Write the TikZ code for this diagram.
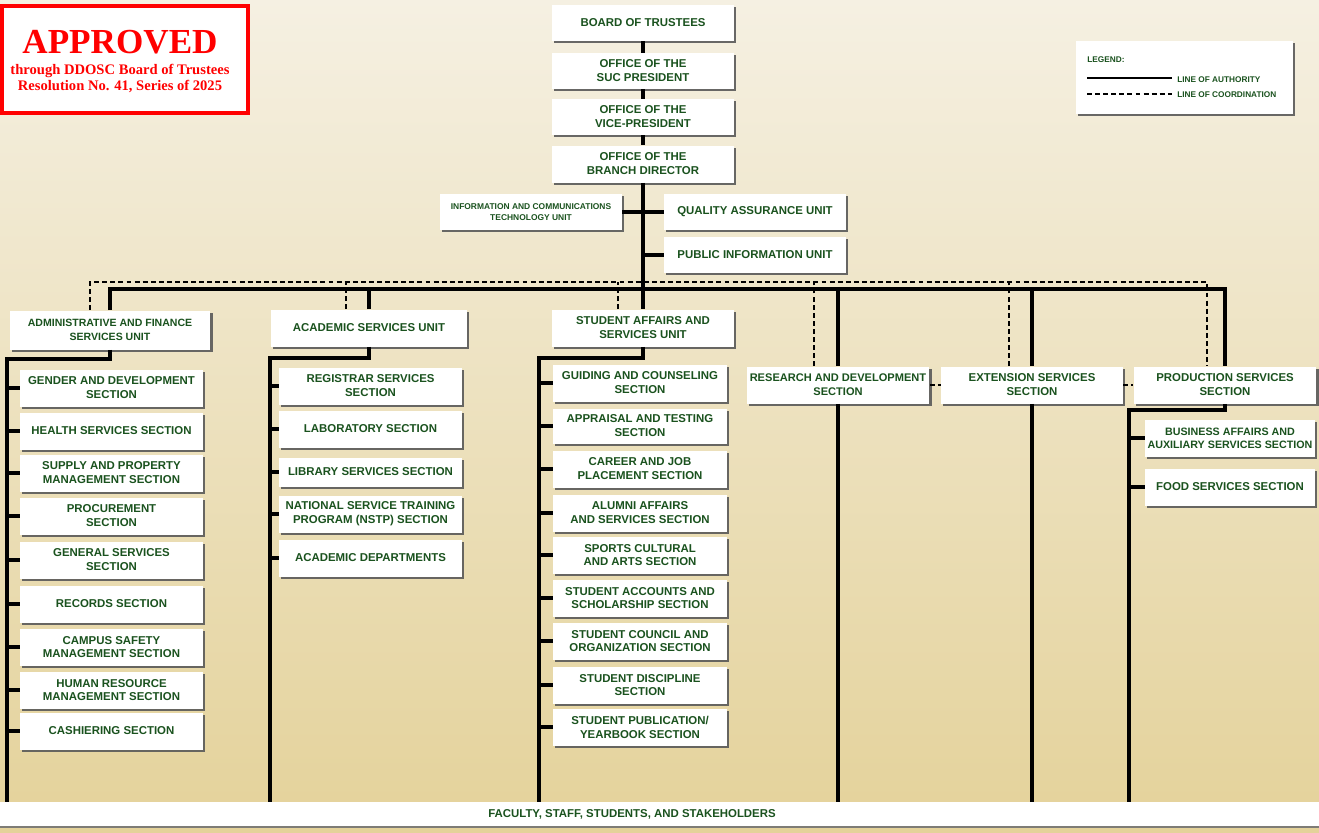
\documentclass[tikz,border=0pt]{standalone}
\usepackage{fontspec}
\setmainfont{Liberation Sans}
\newfontfamily\stampfont{Liberation Serif}
\usetikzlibrary{shadows}
\definecolor{ddgreen}{RGB}{26,82,30}
\definecolor{bgtop}{RGB}{245,240,226}
\definecolor{bgbottom}{RGB}{228,210,154}
\newcommand{\boxfont}{\fontsize{6.5}{7.9}\selectfont\bfseries}
\newcommand{\ictfont}{\fontsize{4.8}{6.2}\selectfont\bfseries}
\newcommand{\legfont}{\fontsize{4.7}{5.6}\selectfont\bfseries}
\newcommand{\branch}[2]{\draw[sub] (#1.west) -- (#1.west -| #2)}

\begin{document}
\begin{tikzpicture}[x=0.02cm, y=-0.02cm,
    box/.style={fill=white, text=ddgreen, font=\boxfont, align=center, inner sep=1pt,
      minimum width=3.64cm, minimum height=0.72cm,
      drop shadow={shadow xshift=1.2pt, shadow yshift=-1.2pt, fill=black!65, opacity=0.9}},
    secbox/.style={box, minimum width=3.66cm, minimum height=0.74cm},
    auth/.style={line width=1.8pt},
    sub/.style={line width=1.8pt},
    coordline/.style={line width=0.75pt, dash pattern=on 2.8pt off 1.8pt}]
  \useasboundingbox (0,0) rectangle (1319,832);
  \shade[top color=bgtop, bottom color=bgbottom] (0,0) rectangle (1319,832);

  % approval stamp
  \node[draw=red, line width=2.3pt, fill=white, minimum width=4.92cm, minimum height=2.14cm] (stamp) at (125,59.5) {};
  \node[anchor=base, text=red, font=\fontsize{20}{22}\stampfont\bfseries] (stamptitle) at (120,53) {APPROVED};
  \node[anchor=base, text=red, font=\fontsize{8.3}{9}\stampfont\bfseries] (stampline) at (120,74) {through DDOSC Board of Trustees};
  \node[anchor=base, text=red, font=\fontsize{8.3}{9}\stampfont\bfseries] (stampres) at (120,90) {Resolution No. 41, Series of 2025};

  % legend
  \node[fill=white, minimum width=4.34cm, minimum height=1.46cm,
    drop shadow={shadow xshift=1.2pt, shadow yshift=-1.2pt, fill=black!65, opacity=0.9}] (legend) at (1184.5,77.5) {};
  \node[anchor=base west, inner sep=0, text=ddgreen, font=\legfont] (leghead) at (1087,62) {LEGEND:};
  \coordinate (legA) at (1087,78);
  \coordinate (legB) at (1172,78);
  \coordinate (legC) at (1087,94);
  \coordinate (legD) at (1172,94);
  \draw[line width=1.1pt] (legA) -- (legB);
  \draw[coordline, line width=1pt] (legC) -- (legD);
  \node[anchor=base west, inner sep=0, text=ddgreen, font=\legfont] (legauth) at (1177,82) {LINE OF AUTHORITY};
  \node[anchor=base west, inner sep=0, text=ddgreen, font=\legfont] (legcoord) at (1177,97) {LINE OF COORDINATION};

  % top offices
  \node[box] (bot) at (643,23) {BOARD OF TRUSTEES};
  \node[box] (suc) at (643,71) {OFFICE OF THE\\SUC PRESIDENT};
  \node[box] (vp) at (643,117) {OFFICE OF THE\\VICE-PRESIDENT};
  \node[box, minimum height=0.74cm] (dir) at (643,164) {OFFICE OF THE\\BRANCH DIRECTOR};
  \node[box, font=\ictfont] (ict) at (531,212) {INFORMATION AND COMMUNICATIONS\\TECHNOLOGY UNIT};
  \node[box] (qa) at (755,212) {QUALITY ASSURANCE UNIT};
  \node[box] (piu) at (755,255) {PUBLIC INFORMATION UNIT};

  % units
  \node[box, font=\fontsize{6}{7.8}\selectfont\bfseries, minimum width=4.02cm, minimum height=0.78cm] (afsu) at (110,330) {ADMINISTRATIVE AND FINANCE\\SERVICES UNIT};
  \node[box, minimum width=3.92cm, minimum height=0.74cm] (asu) at (369,328) {ACADEMIC SERVICES UNIT};
  \node[box, minimum height=0.74cm] (sasu) at (643,328) {STUDENT AFFAIRS AND\\SERVICES UNIT};
  \node[secbox, font=\fontsize{6.3}{7.8}\selectfont\bfseries] (rds) at (838,385) {RESEARCH AND DEVELOPMENT\\SECTION};
  \node[box, minimum height=0.74cm] (ess) at (1032,385) {EXTENSION SERVICES\\SECTION};
  \node[secbox] (pss) at (1225,385) {PRODUCTION SERVICES\\SECTION};

  % administrative and finance sections
  \node[secbox] (gad) at (111.5,388) {GENDER AND DEVELOPMENT\\SECTION};
  \node[secbox] (hss) at (111.5,431) {HEALTH SERVICES SECTION};
  \node[secbox] (spms) at (111.5,473) {SUPPLY AND PROPERTY\\MANAGEMENT SECTION};
  \node[secbox] (prs) at (111.5,516) {PROCUREMENT\\SECTION};
  \node[secbox] (gss) at (111.5,560) {GENERAL SERVICES\\SECTION};
  \node[secbox] (recs) at (111.5,604) {RECORDS SECTION};
  \node[secbox] (csms) at (111.5,647) {CAMPUS SAFETY\\MANAGEMENT SECTION};
  \node[secbox] (hrms) at (111.5,690) {HUMAN RESOURCE\\MANAGEMENT SECTION};
  \node[secbox] (cash) at (111.5,731) {CASHIERING SECTION};

  % academic sections
  \node[secbox] (rss) at (370.5,386) {REGISTRAR SERVICES\\SECTION};
  \node[secbox] (labs) at (370.5,429) {LABORATORY SECTION};
  \node[secbox, minimum height=0.58cm] (libs) at (370.5,472) {LIBRARY SERVICES SECTION};
  \node[secbox] (nstp) at (370.5,514) {NATIONAL SERVICE TRAINING\\PROGRAM (NSTP) SECTION};
  \node[secbox] (adep) at (370.5,558) {ACADEMIC DEPARTMENTS};

  % student affairs sections
  \node[secbox, minimum width=3.48cm] (gcs) at (640,383) {GUIDING AND COUNSELING\\SECTION};
  \node[secbox, minimum width=3.48cm, minimum height=0.7cm] (ats) at (640,426) {APPRAISAL AND TESTING\\SECTION};
  \node[secbox, minimum width=3.48cm] (cjps) at (640,469) {CAREER AND JOB\\PLACEMENT SECTION};
  \node[secbox, minimum width=3.48cm] (aass) at (640,513) {ALUMNI AFFAIRS\\AND SERVICES SECTION};
  \node[secbox, minimum width=3.48cm] (scas) at (640,555) {SPORTS CULTURAL\\AND ARTS SECTION};
  \node[secbox, minimum width=3.48cm] (sass) at (640,598) {STUDENT ACCOUNTS AND\\SCHOLARSHIP SECTION};
  \node[secbox, minimum width=3.48cm] (scos) at (640,641) {STUDENT COUNCIL AND\\ORGANIZATION SECTION};
  \node[secbox, minimum width=3.48cm] (sds) at (640,685) {STUDENT DISCIPLINE\\SECTION};
  \node[secbox, minimum width=3.48cm] (spys) at (640,727) {STUDENT PUBLICATION/\\YEARBOOK SECTION};

  % production sections
  \node[secbox, minimum width=3.4cm, font=\fontsize{6.1}{7.6}\selectfont\bfseries] (baas) at (1230,438) {BUSINESS AFFAIRS AND\\AUXILIARY SERVICES SECTION};
  \node[secbox, minimum width=3.4cm] (fss) at (1230,487) {FOOD SERVICES SECTION};

  % bottom band
  \node[fill=white, minimum width=26.38cm, minimum height=0.48cm, inner sep=0,
    drop shadow={shadow xshift=0pt, shadow yshift=-1.2pt, fill=black!55, opacity=0.9}] (foot) at (659.5,814) {};
  \node[text=ddgreen, font=\boxfont] (stake) at (632,814) {FACULTY, STAFF, STUDENTS, AND STAKEHOLDERS};

  % line of authority
  \coordinate (bus) at (643,289);
  \draw[auth] (bot) -- (suc);
  \draw[auth] (suc) -- (vp);
  \draw[auth] (vp) -- (dir);
  \draw[auth] (dir.south) -- (sasu.north);
  \draw[auth] (ict.east) -- (ict.east -| dir);
  \draw[auth] (qa.west) -- (qa.west -| dir);
  \draw[auth] (piu.west) -- (piu.west -| dir);
  \draw[auth] (afsu.north) |- (bus) -| (pss.north);
  \draw[auth] (asu.north) -- (asu.north |- bus);
  \draw[auth] (rds.north) -- (rds.north |- bus);
  \draw[auth] (ess.north) -- (ess.north |- bus);

  % line of coordination
  \coordinate (cbus) at (643,282);
  \draw[coordline] ([xshift=-0.4cm]afsu.north) |- (cbus) -| ([xshift=-0.36cm]pss.north);
  \draw[coordline] ([xshift=-0.46cm]asu.north) -- ([xshift=-0.46cm]asu.north |- cbus);
  \draw[coordline] ([xshift=-0.5cm]sasu.north) -- ([xshift=-0.5cm]sasu.north |- cbus);
  \draw[coordline] ([xshift=-0.48cm]rds.north) -- ([xshift=-0.48cm]rds.north |- cbus);
  \draw[coordline] ([xshift=-0.46cm]ess.north) -- ([xshift=-0.46cm]ess.north |- cbus);
  \draw[coordline] (rds.east) -- (ess.west);
  \draw[coordline] (ess.east) -- (pss.west);

  % section lines
  \coordinate (afbus) at (7,359);
  \coordinate (asbus) at (270,358);
  \coordinate (sabus) at (539,358);
  \coordinate (psbus) at (1129,410);
  \draw[sub] (afsu.south) |- (afbus) -- (afbus |- foot.north);
  \draw[sub] (asu.south) |- (asbus) -- (asbus |- foot.north);
  \draw[sub] (sasu.south) |- (sabus) -- (sabus |- foot.north);
  \draw[sub] (rds.south) -- (rds.south |- foot.north);
  \draw[sub] (ess.south) -- (ess.south |- foot.north);
  \draw[sub] (pss.south) |- (psbus) -- (psbus |- foot.north);

  \branch{gad}{afbus};
  \branch{hss}{afbus};
  \branch{spms}{afbus};
  \branch{prs}{afbus};
  \branch{gss}{afbus};
  \branch{recs}{afbus};
  \branch{csms}{afbus};
  \branch{hrms}{afbus};
  \branch{cash}{afbus};

  \branch{rss}{asbus};
  \branch{labs}{asbus};
  \branch{libs}{asbus};
  \branch{nstp}{asbus};
  \branch{adep}{asbus};

  \branch{gcs}{sabus};
  \branch{ats}{sabus};
  \branch{cjps}{sabus};
  \branch{aass}{sabus};
  \branch{scas}{sabus};
  \branch{sass}{sabus};
  \branch{scos}{sabus};
  \branch{sds}{sabus};
  \branch{spys}{sabus};

  \branch{baas}{psbus};
  \branch{fss}{psbus};
\end{tikzpicture}
\end{document}
